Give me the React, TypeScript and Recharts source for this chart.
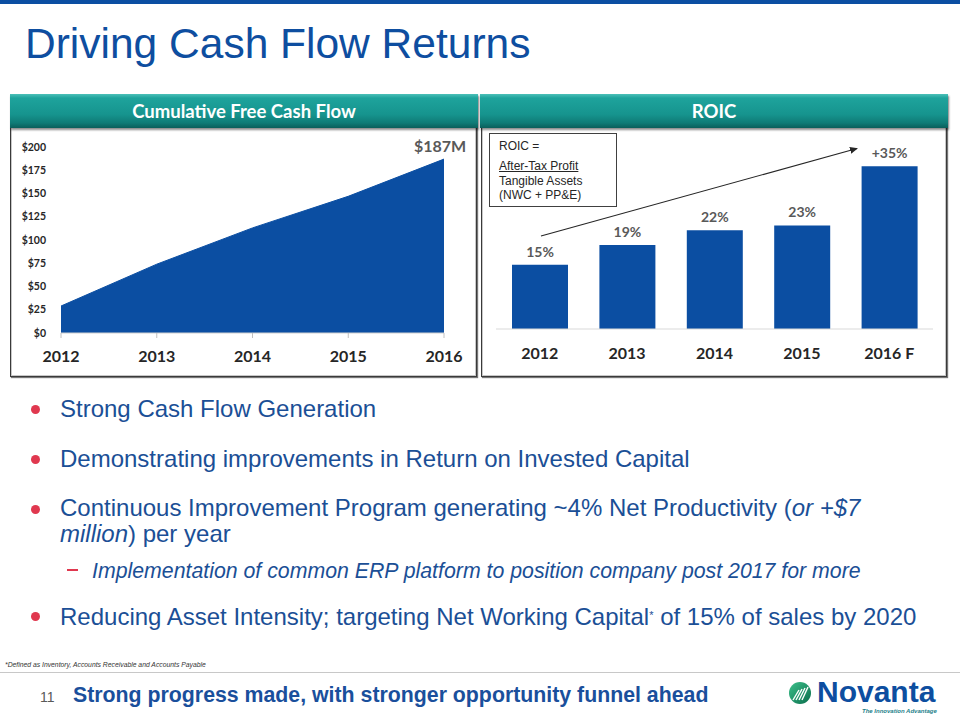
import React from 'react';
import { AreaChart, Area, BarChart, Bar, XAxis, YAxis, LabelList } from 'recharts';

const fcfYears = ['2012', '2013', '2014', '2015', '2016'];
const fcfValues = [29, 74, 113, 147, 187];
const fcfTicks = [0, 25, 50, 75, 100, 125, 150, 175, 200];

const roicYears = ['2012', '2013', '2014', '2015', '2016 F'];
const roicValues = [15, 19, 22, 23, 35];
const roicLabels = ['15%', '19%', '22%', '23%', '+35%'];

const fcfData = fcfYears.map((year, i) => ({ year, value: fcfValues[i] }));
const roicData = roicYears.map((year, i) => ({ year, value: roicValues[i], label: roicLabels[i] }));

const BLUE = '#0b4ea2';
const TEXT_BLUE = '#1b4f96';
const RED = '#e0384f';
const LATO = 'Lato, "Open Sans", sans-serif';
const ARIAL = '"Liberation Sans", Arial, sans-serif';

const headerStyle: React.CSSProperties = {
  position: 'absolute',
  height: 34,
  background: 'linear-gradient(to bottom, #4cc0b8 0%, #1ea39c 12%, #16948e 60%, #0f7b76 85%, #0a5e5a 100%)',
  color: '#ffffff',
  fontFamily: LATO,
  fontWeight: 700,
  fontSize: 18.5,
  lineHeight: '34px',
  textAlign: 'center',
  boxShadow: '1px 2px 2px rgba(0,0,0,0.45)',
  zIndex: 2,
};

const panelStyle: React.CSSProperties = {
  position: 'absolute',
  border: '1px solid #3a3a3a',
  boxShadow: 'inset 0 0 0 1px #c8c8c8, 1px 1px 1px #777',
  background: '#ffffff',
  boxSizing: 'border-box',
};

const FcfEndLabel = (props: any) => {
  const { x, y, index } = props;
  if (index !== fcfData.length - 1) return null;
  return (
    <text x={x - 4} y={y - 7} textAnchor="middle" fill="#595959" fontFamily={LATO} fontWeight={700} fontSize={16}>
      {`$${fcfData[index].value}M`}
    </text>
  );
};

const bulletDot = (top: number) => (
  <div style={{ position: 'absolute', left: 31, top: top - 4.5, width: 9, height: 9, borderRadius: '50%', background: RED }} />
);

const bulletText: React.CSSProperties = {
  position: 'absolute',
  left: 60,
  fontFamily: ARIAL,
  fontSize: 24,
  color: TEXT_BLUE,
  whiteSpace: 'nowrap',
  lineHeight: '26px',
};

export default function App() {
  return (
    <div style={{ position: 'absolute', left: 0, top: 0, width: 960, height: 720, overflow: 'hidden', background: '#fff', fontFamily: ARIAL }}>
      {/* top bar */}
      <div style={{ position: 'absolute', left: 0, top: 0, width: 960, height: 4, background: BLUE }} />
      {/* title */}
      <div style={{ position: 'absolute', left: 25, top: 20, fontFamily: ARIAL, fontSize: 42.5, color: '#0e4ea0', whiteSpace: 'nowrap', lineHeight: '48px' }}>
        Driving Cash Flow Returns
      </div>

      {/* Left panel */}
      <div style={{ ...panelStyle, left: 10, top: 95, width: 467, height: 282 }} />
      <div style={{ ...headerStyle, left: 10, top: 94, width: 468 }}>Cumulative Free Cash Flow</div>
      <div style={{ position: 'absolute', left: 10, top: 128 }}>
        <AreaChart width={466} height={248} data={fcfData} margin={{ top: 19, right: 32, bottom: 13, left: 0 }}>
          <XAxis
            dataKey="year"
            scale="point"
            height={30}
            axisLine={{ stroke: '#d0d0d0' }}
            tickLine={{ stroke: '#c0c0c0' }}
            tickSize={5}
            tickMargin={13}
            tick={{ fill: '#262626', fontFamily: LATO, fontWeight: 700, fontSize: 16 }}
            interval={0}
          />
          <YAxis
            domain={[0, 200]}
            ticks={fcfTicks}
            width={51}
            axisLine={false}
            tickLine={false}
            tickSize={0}
            tickMargin={15}
            tickFormatter={(v: number) => `$${v}`}
            tick={{ fill: '#262626', fontFamily: LATO, fontWeight: 700, fontSize: 10.5 }}
            interval={0}
          />
          <Area
            type="linear"
            dataKey="value"
            stroke={BLUE}
            strokeWidth={1}
            fill={BLUE}
            fillOpacity={1}
            isAnimationActive={false}
            dot={false}
            activeDot={false}
          >
            <LabelList dataKey="value" content={FcfEndLabel} />
          </Area>
        </AreaChart>
      </div>

      {/* Right panel */}
      <div style={{ ...panelStyle, left: 481, top: 95, width: 466, height: 282 }} />
      <div style={{ ...headerStyle, left: 480, top: 94, width: 468 }}>ROIC</div>
      <div style={{ position: 'absolute', left: 481, top: 128 }}>
        <BarChart width={465} height={248} data={roicData} margin={{ top: 13.5, right: 13, bottom: 17, left: 15 }}>
          <XAxis
            dataKey="year"
            height={30}
            axisLine={{ stroke: '#d9d9d9' }}
            tickLine={false}
            tickSize={0}
            tickMargin={19}
            tick={{ fill: '#262626', fontFamily: LATO, fontWeight: 700, fontSize: 16 }}
            interval={0}
          />
          <YAxis hide domain={[2, 40]} />
          <Bar dataKey="value" fill={BLUE} barSize={56} isAnimationActive={false}>
            <LabelList dataKey="label" position="top" offset={8} fill="#595959" fontFamily={LATO} fontWeight={700} fontSize={14} />
          </Bar>
        </BarChart>
      </div>
      {/* ROIC formula box */}
      <div style={{ position: 'absolute', left: 489, top: 133, width: 128, height: 74, border: '1px solid #404040', boxSizing: 'border-box', background: '#fff', fontFamily: ARIAL, fontSize: 12, color: '#262626', zIndex: 3 }}>
        <div style={{ position: 'absolute', left: 9, top: 5, lineHeight: '14px' }}>ROIC =</div>
        <div style={{ position: 'absolute', left: 9, top: 25, lineHeight: '14px', textDecoration: 'underline' }}>After-Tax Profit</div>
        <div style={{ position: 'absolute', left: 9, top: 39.5, lineHeight: '14px' }}>Tangible Assets</div>
        <div style={{ position: 'absolute', left: 9, top: 54, lineHeight: '14px' }}>(NWC + PP&amp;E)</div>
      </div>
      {/* trend arrow */}
      <svg style={{ position: 'absolute', left: 0, top: 0, zIndex: 3, pointerEvents: 'none' }} width={960} height={720}>
        <defs>
          <marker id="arrowHead" markerWidth="8" markerHeight="8" refX="7" refY="4" orient="auto" markerUnits="userSpaceOnUse">
            <path d="M0,0.5 L8,4 L0,7.5 Z" fill="#262626" />
          </marker>
        </defs>
        <line x1={541} y1={236} x2={857} y2={148.5} stroke="#262626" strokeWidth={1.2} markerEnd="url(#arrowHead)" />
      </svg>

      {/* Bullets */}
      {bulletDot(409)}
      <div style={{ ...bulletText, top: 396 }}>Strong Cash Flow Generation</div>
      {bulletDot(459)}
      <div style={{ ...bulletText, top: 446 }}>Demonstrating improvements in Return on Invested Capital</div>
      {bulletDot(509)}
      <div style={{ ...bulletText, top: 495 }}>
        Continuous Improvement Program generating ~4% Net Productivity (<i>or +$7</i>
      </div>
      <div style={{ ...bulletText, top: 521 }}>
        <i>million</i>) per year
      </div>
      <div style={{ position: 'absolute', left: 67, top: 569, width: 11, height: 2, background: RED }} />
      <div style={{ ...bulletText, left: 92, top: 558, fontSize: 21.3, fontStyle: 'italic' }}>
        Implementation of common ERP platform to position company post 2017 for more
      </div>
      {bulletDot(616)}
      <div style={{ ...bulletText, top: 604 }}>
        Reducing Asset Intensity; targeting Net Working Capital<span style={{ fontSize: 11, verticalAlign: 'top', position: 'relative', top: -2 }}>*</span> of 15% of sales by 2020
      </div>

      {/* footnote */}
      <div style={{ position: 'absolute', left: 5, top: 661, fontFamily: ARIAL, fontSize: 6.8, fontStyle: 'italic', color: '#333', whiteSpace: 'nowrap' }}>
        *Defined as Inventory, Accounts Receivable and Accounts Payable
      </div>
      <div style={{ position: 'absolute', left: 0, top: 672, width: 960, height: 1, background: '#c8c8c8' }} />

      {/* footer */}
      <div style={{ position: 'absolute', left: 40, top: 689, fontFamily: ARIAL, fontSize: 14, color: '#595959', lineHeight: '16px' }}>11</div>
      <div style={{ position: 'absolute', left: 73, top: 683, fontFamily: ARIAL, fontSize: 21.3, fontWeight: 700, color: '#1a4f9c', whiteSpace: 'nowrap', lineHeight: '24px' }}>
        Strong progress made, with stronger opportunity funnel ahead
      </div>

      {/* logo */}
      <svg style={{ position: 'absolute', left: 788, top: 681 }} width={24} height={24} viewBox="0 0 24 24">
        <defs>
          <linearGradient id="logoG" x1="0" y1="0" x2="1" y2="1">
            <stop offset="0%" stopColor="#3cc08a" />
            <stop offset="100%" stopColor="#0b6e4c" />
          </linearGradient>
          <clipPath id="logoClip">
            <circle cx="12" cy="12" r="11" />
          </clipPath>
        </defs>
        <circle cx="12" cy="12" r="11" fill="url(#logoG)" />
        <g clipPath="url(#logoClip)" stroke="#ffffff" strokeWidth="1.4">
          <line x1="5" y1="19" x2="11" y2="9" />
          <line x1="8" y1="19" x2="14" y2="8" />
          <line x1="11" y1="19" x2="17" y2="7" />
          <line x1="14" y1="19" x2="20" y2="6" />
        </g>
      </svg>
      <div style={{ position: 'absolute', left: 817, top: 678, fontFamily: ARIAL, fontSize: 30, fontWeight: 700, color: '#0d4ea0', whiteSpace: 'nowrap', lineHeight: '28px' }}>
        Novanta
      </div>
      <div style={{ position: 'absolute', left: 862, top: 707, fontFamily: ARIAL, fontSize: 6, fontWeight: 700, fontStyle: 'italic', color: '#1c7f8a', whiteSpace: 'nowrap', lineHeight: '8px' }}>
        The Innovation Advantage
      </div>
    </div>
  );
}
